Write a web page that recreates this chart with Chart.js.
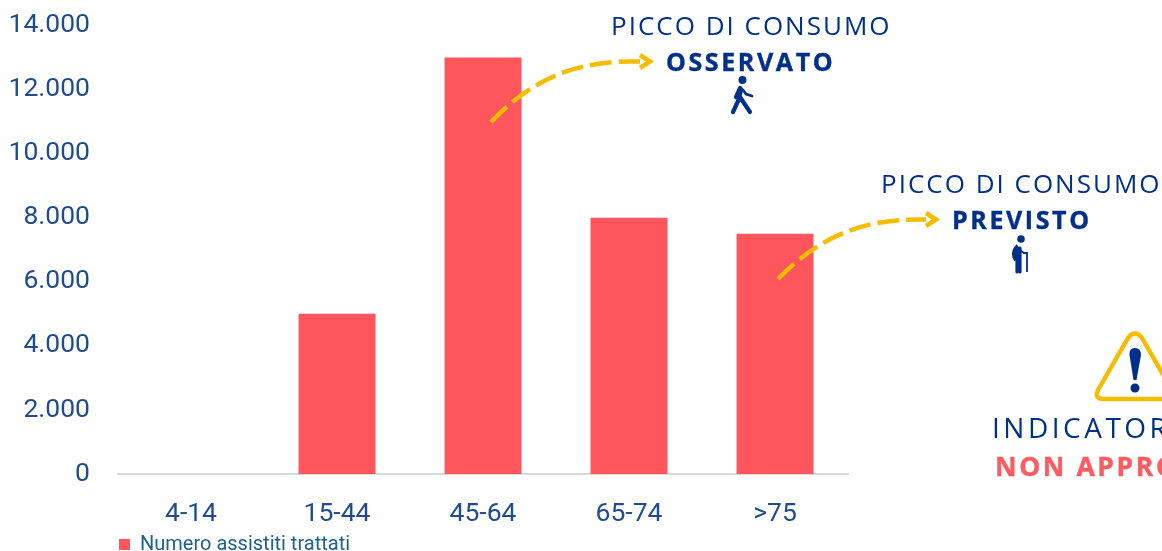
<!DOCTYPE html>
<html>
<head>
<meta charset="utf-8">
<script src="https://cdn.jsdelivr.net/npm/chart.js@4"></script>
<style>
  html, body { margin: 0; padding: 0; background: #fff; overflow: hidden; }
  #box { position: relative; width: 1162px; height: 551px; overflow: hidden; }
  #box canvas { position: absolute; left: 0; top: 0; }
  #over { position: absolute; left: 0; top: 0; }
  .t { position: absolute; white-space: nowrap; font-family: "Open Sans", sans-serif; color: #00308a; line-height: 1; }
  .thin { font-size: 26px; letter-spacing: 2px; }
  .bold { font-size: 25px; font-weight: 700; letter-spacing: 2.6px; -webkit-text-stroke: 0.4px #00308a; }
</style>
</head>
<body>
<div id="box">
  <canvas id="chart" width="1162" height="551"></canvas>
  <svg id="over" width="1162" height="551" fill="none">
    <path d="M491 122 C 535 76, 580 60, 640 61.500" stroke="#f6bd00" stroke-width="4.500" stroke-dasharray="22 7"/>
    <path d="M640 55 L650 61.500 L640 68" stroke="#f6bd00" stroke-width="4.500"/>
    <path d="M778 279 C 822 234, 867 218, 926 219.500" stroke="#f6bd00" stroke-width="4.500" stroke-dasharray="22 7"/>
    <path d="M926 213 L936 219.500 L926 226" stroke="#f6bd00" stroke-width="4.500"/>

    <circle cx="742.500" cy="80" r="4" fill="#00308a"/>
    <path d="M741 89 L739 99 L733 112 M740 97 L750 112 M740 88 L736 97" stroke="#00308a" stroke-width="4.200" stroke-linecap="round"/>
    <path d="M743 90 L746 94 L752 96" stroke="#00308a" stroke-width="2.800" stroke-linecap="round"/>

    <circle cx="1021" cy="239" r="3.800" fill="#00308a"/>
    <path d="M1017 248 L1017 272 M1020 248 L1020 272" stroke="#00308a" stroke-width="3.200" stroke-linecap="round"/>
    <path d="M1018 246 C 1013 250, 1013 256, 1016 260" stroke="#00308a" stroke-width="4"/>
    <path d="M1020 250 L1024 253 L1027 253 L1027 272" stroke="#00308a" stroke-width="1.800"/>

    <path d="M1128 338 Q 1135 329 1142 338 L 1172 390 Q 1176 399 1166 399 L 1104 399 Q 1094 399 1098 390 Z" stroke="#f6bd00" stroke-width="4.500" stroke-linejoin="round"/>
    <path d="M1135 348 Q 1129 348 1129.500 355 L 1133.500 380 L 1136.500 380 L 1141 355 Q 1141 348 1135 348 Z" fill="#00308a"/>
    <circle cx="1135" cy="388" r="4.500" fill="#00308a"/>
  </svg>
  <div class="t thin" style="left:611px;top:12px">PICCO DI CONSUMO</div>
  <div class="t bold" style="left:666px;top:49px">OSSERVATO</div>
  <div class="t thin" style="left:881px;top:170px">PICCO DI CONSUMO</div>
  <div class="t bold" style="left:952px;top:207px">PREVISTO</div>
  <div class="t thin" style="left:992px;top:413px;font-size:28px;letter-spacing:3.500px">INDICATORE</div>
  <div class="t bold" style="left:995px;top:453px;font-size:26.500px;color:#ff5a5f;-webkit-text-stroke:0.4px #ff5a5f">NON APPROPRIATO</div>
</div>
<script>
const fasce = ['4-14', '15-44', '45-64', '65-74', '>75'];
const assistiti = [0, 5000, 13000, 8000, 7500];
const nomeSerie = 'Numero assistiti trattati';

const blu = '#1f4b91';
const rosso = '#ff565d';

new Chart('chart', {
  type: 'bar',
  data: {
    labels: fasce,
    datasets: [{
      label: nomeSerie,
      data: assistiti,
      backgroundColor: rosso,
      barPercentage: 0.527,
      categoryPercentage: 1
    }]
  },
  options: {
    responsive: false,
    animation: false,
    layout: { padding: { top: 25.5, right: 314, bottom: -13.5, left: 0 } },
    plugins: {
      tooltip: { enabled: false },
      legend: {
        position: 'bottom',
        align: 'start',
        fullSize: false,
        labels: {
          boxWidth: 11,
          boxHeight: 11,
          padding: 1,
          color: '#1f6090',
          font: { family: 'Roboto', size: 20 }
        }
      }
    },
    scales: {
      x: {
        afterFit: (s) => { s.height = 59.5; },
        grid: { display: false, drawTicks: false },
        border: { color: '#d9d9d9', width: 2 },
        ticks: {
          color: blu,
          padding: 24,
          font: { family: 'Roboto', size: 26.5 }
        }
      },
      y: {
        min: 0,
        max: 14000,
        afterFit: (s) => { s.width = 118; s.paddingTop = 0; s.paddingBottom = 0; },
        grid: { display: false, drawTicks: false },
        border: { display: false },
        ticks: {
          stepSize: 2000,
          color: blu,
          padding: 28,
          font: { family: 'Roboto', size: 26.5 },
          callback: (v) => String(v).replace(/\B(?=(\d{3})+$)/g, '.')
        }
      }
    }
  }
});
</script>
</body>
</html>
